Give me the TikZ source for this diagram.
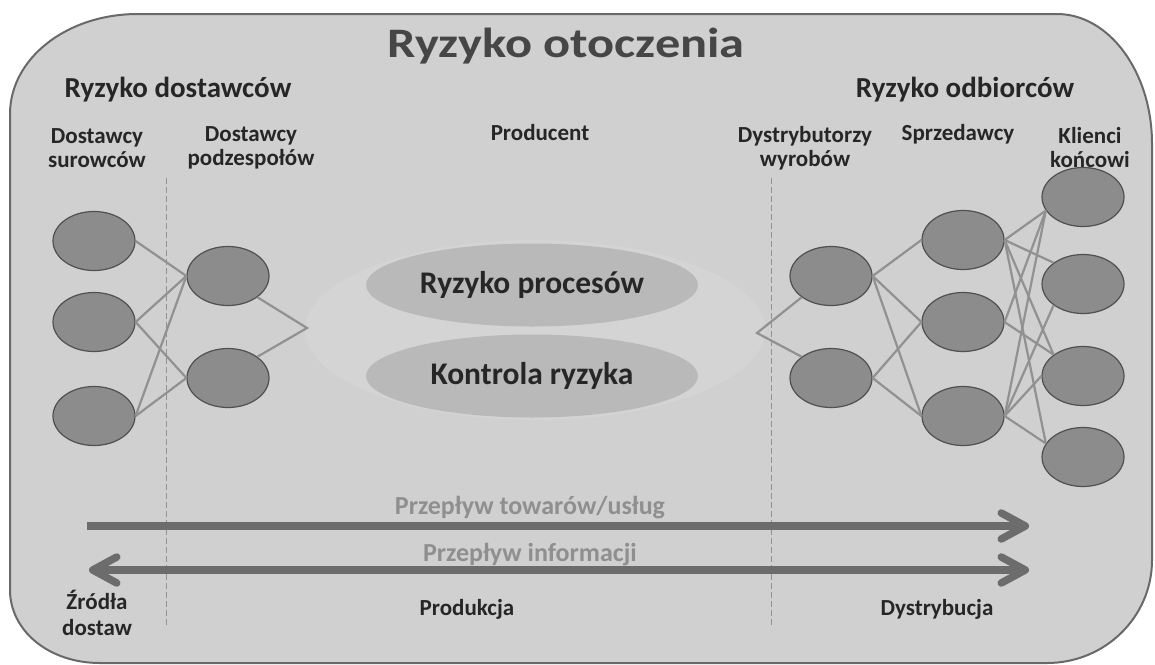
\documentclass[tikz,border=0pt]{standalone}
\usepackage{fontspec}
\setmainfont{Carlito}
\newfontfamily\titlefont{Carlito}[FakeStretch=1.2]
\usetikzlibrary{shapes.geometric,arrows.meta}
\definecolor{tlo}{RGB}{208,208,208}
\definecolor{ramka}{RGB}{105,105,105}
\definecolor{wezel}{RGB}{140,140,140}
\definecolor{obrys}{RGB}{80,80,80}
\definecolor{lacze}{RGB}{145,145,145}
\definecolor{plama}{RGB}{185,185,185}
\definecolor{poswiata}{RGB}{212,212,212}
\definecolor{strzalka}{RGB}{108,108,108}
\definecolor{opis}{RGB}{143,143,143}
\definecolor{tytul}{RGB}{70,70,70}
\definecolor{tekst}{RGB}{38,38,38}

\begin{document}
\begin{tikzpicture}[x=1pt,y=-1pt,
  firma/.style={ellipse,draw=obrys,fill=wezel,line width=1.2pt,minimum width=82pt,minimum height=59pt,inner sep=0pt},
  lacz/.style={draw=lacze,line width=2.2pt},
  ryzyko/.style={ellipse,fill=plama,minimum width=332pt,minimum height=83pt,inner sep=0pt,text=tekst,font=\bfseries\fontsize{31.5}{36}\selectfont},
  etap/.style={align=center,text=tekst,font=\bfseries\fontsize{23}{24}\selectfont},
  naglowek/.style={text=tekst,anchor=base,font=\bfseries\fontsize{29}{32}\selectfont},
  granica/.style={draw=lacze,line width=0.8pt,dash pattern=on 6pt off 3pt},
  przeplyw/.style={draw=strzalka,line width=7.5pt},
  grot/.tip={Straight Barb[round,length=24pt,width=26pt]},
  etykieta/.style={text=opis,font=\bfseries\fontsize{26}{30}\selectfont}]
\useasboundingbox (0,0) rectangle (1155,664);
\draw[fill=tlo,draw=ramka,line width=2pt] (138,14) -- (1057,14)
  .. controls (1109,14) and (1152,72) .. (1152,144) -- (1152,560)
  .. controls (1152,617) and (1105,663) .. (1047,663) -- (100,663)
  .. controls (48,663) and (10,630) .. (10,590) -- (10,114)
  .. controls (10,59) and (66,14) .. cycle;
\fill[poswiata] (535,330) ellipse [x radius=230,y radius=90];

\node[anchor=base,text=tytul,font=\titlefont\bfseries\fontsize{42}{48}\selectfont] (otoczenie) at (566,57) {Ryzyko otoczenia};
\node[naglowek] (dostawcy) at (178,97) {Ryzyko dostawców};
\node[naglowek] (odbiorcy) at (965,97) {Ryzyko odbiorców};

\node[etap] (surowce) at (97,148) {Dostawcy\\surowców};
\node[etap] (podzespoly) at (251,148) {Dostawcy\\podzespołów};
\node[etap,anchor=base] (producent) at (540,140) {Producent};
\node[etap] (dystrybutorzy) at (805,148) {Dystrybutorzy\\wyrobów};
\node[etap,anchor=base] (sprzedawcy) at (958,140) {Sprzedawcy};
\node[etap] (klienci) at (1090,148) {Klienci\\końcowi};

\coordinate (g1a) at (166,178);
\coordinate (g1b) at (166,625);
\coordinate (g2a) at (771,178);
\coordinate (g2b) at (771,625);
\draw[granica] (g1a) -- (g1b);
\draw[granica] (g2a) -- (g2b);

\node[firma] (l1) at (94,241) {};
\node[firma] (l2) at (94,322) {};
\node[firma] (l3) at (94,416) {};
\node[firma] (m1) at (228,276) {};
\node[firma] (m2) at (228,378) {};
\coordinate (pl) at (307,328);

\node[ryzyko] (procesy) at (532,285) {Ryzyko procesów};
\node[ryzyko] (kontrola) at (532,376) {Kontrola ryzyka};

\coordinate (pr) at (757,333);
\node[firma] (d1) at (831,276) {};
\node[firma] (d2) at (831,378) {};
\node[firma] (s1) at (963,240) {};
\node[firma] (s2) at (963,322) {};
\node[firma] (s3) at (963,416) {};
\node[firma] (k1) at (1083,197) {};
\node[firma] (k2) at (1083,284) {};
\node[firma] (k3) at (1083,376) {};
\node[firma] (k4) at (1083,457) {};

\draw[lacz] (l1.east) -- (m1.west);
\draw[lacz] (l2.east) -- (m1.west);
\draw[lacz] (l2.east) -- (m2.west);
\draw[lacz] (l3.east) -- (m1.west);
\draw[lacz] (l3.east) -- (m2.west);
\draw[lacz] (m1.south east) -- (pl) -- (m2.north east);

\draw[lacz] (d1.south west) -- (pr) -- (d2.north west);
\draw[lacz] (d1.east) -- (s1.west);
\draw[lacz] (d1.east) -- (s2.west);
\draw[lacz] (d1.east) -- (s3.west);
\draw[lacz] (d2.east) -- (s2.west);
\draw[lacz] (d2.east) -- (s3.west);

\draw[lacz] (s1.east) -- (k1.200);
\draw[lacz] (s1.east) -- (k2.north west);
\draw[lacz] (s1.east) -- (k3.north west);
\draw[lacz] (s1.east) -- (k4.160);
\draw[lacz] (s2.east) -- (k1.200);
\draw[lacz] (s2.east) -- (k3.north west);
\draw[lacz] (s3.east) -- (k1.200);
\draw[lacz] (s3.east) -- (k2.south west);
\draw[lacz] (s3.east) -- (k3.west);
\draw[lacz] (s3.east) -- (k4.160);

\coordinate (t0) at (87,526);
\coordinate (t1) at (1029,526);
\coordinate (i0) at (89,570);
\coordinate (i1) at (1029,570);
\draw[przeplyw,-grot] (t0) -- (t1);
\draw[przeplyw,grot-grot] (i0) -- (i1);
\node[etykieta] (towary) at (530,508) {Przepływ towarów/usług};
\node[etykieta] (informacja) at (530,555) {Przepływ informacji};

\node[etap,font=\bfseries\fontsize{23}{26}\selectfont] (zrodla) at (97,613) {Źródła\\dostaw};
\node[etap,anchor=base] (produkcja) at (467,615) {Produkcja};
\node[etap,anchor=base] (dystrybucja) at (937,615) {Dystrybucja};
\end{tikzpicture}
\end{document}
